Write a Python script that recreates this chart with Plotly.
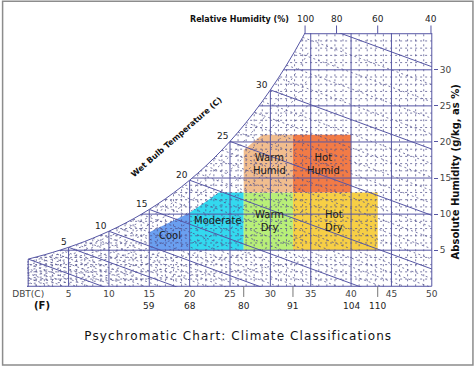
import plotly.graph_objects as go

# ---------------- data ----------------
# saturation humidity ratio (g/kg) at each integer dry-bulb temperature (C)
sat_T = list(range(-6, 36))
sat_w = [2.41, 2.60, 2.80, 3.02, 3.25, 3.50,
         3.77, 4.06, 4.36, 4.69, 5.03, 5.40, 5.80, 6.21, 6.66, 7.13,
         7.63, 8.16, 8.73, 9.33, 9.97, 10.65, 11.37, 12.13, 12.94, 13.79,
         14.70, 15.66, 16.67, 17.75, 18.88, 20.08, 21.36, 22.70, 24.12, 25.62,
         27.21, 28.88, 30.65, 32.52, 34.50, 36.58]
wb_slope = 0.41  # g/kg drop per degree C along a wet-bulb line
rh_grid = [0.9, 0.8, 0.7, 0.6, 0.5, 0.4, 0.3, 0.2, 0.1]  # dotted relative-humidity curves

dbt_ticks = [0, 5, 10, 15, 20, 25, 30, 35, 40, 45, 50]
dbt_labels = ["DBT(C)", "5", "10", "15", "20", "25", "30", "35", "40", "45", "50"]
abs_ticks = [5, 10, 15, 20, 25, 30]
f_T = [15, 20, 26.7, 32.8, 40, 43.3]
f_labels = ["59", "68", "80", "91", "104", "110"]
f_tick_T = [26.7, 32.8, 43.3]
rh_labels = ["100", "80", "60", "40"]
rh_T = [34.3, 38.2, 43.3, 49.9]
wb_label_T = [5, 10, 15, 20, 25, 30]

region_names = ["Cool", "Moderate", "Warm<br>Dry", "Hot<br>Dry", "Warm<br>Humid", "Hot<br>Humid"]
region_colors = ["#6a9ff0", "#33d9ef", "#b8ef78", "#f7cf45", "#f1bd8e", "#f27b46"]
region_T = [[15, 20, 20, 17.5, 15],
            [20, 26.7, 26.7, 23.6, 22, 20],
            [26.7, 32.8, 32.8, 26.7],
            [32.8, 43.3, 43.3, 32.8],
            [26.7, 32.8, 32.8, 29.0, 26.7],
            [32.8, 40, 40, 32.8]]
region_w = [[5, 5, 10.2, 8.8, 7.5],
            [5, 5, 13, 13, 11.7, 10.2],
            [5, 5, 13, 13],
            [5, 5, 13, 13],
            [13, 13, 21, 21, 18.9],
            [13, 13, 21, 21]]
label_T = [17.6, 23.5, 29.9, 37.9, 29.9, 36.6]
label_w = [7.0, 9.1, 9.0, 9.0, 16.9, 16.9]

# ---------------- layout geometry ----------------
FW, FH = 474, 366
X0, X1, Y0, Y1 = -0.15, 50.15, -0.1, 35.1
PXX, PXY = 8.1, 7.23
L = 26.5 + X0 * PXX
PW = (X1 - X0) * PXX
R = FW - L - PW
B = FH - (286.3 - Y0 * PXY)
PH = (Y1 - Y0) * PXY
T_ = FH - B - PH


def px(xp):
    return (xp - L) / PW


def py(yp):
    return (FH - B - yp) / PH


SOLID = "#5656a4"
DOT = "rgba(80,80,140,0.75)"
FONT = "DejaVu Sans"

fig = go.Figure()

# colored climate regions
for xs, ys, c in zip(region_T, region_w, region_colors):
    fig.add_trace(go.Scatter(x=xs + [xs[0]], y=ys + [ys[0]], fill="toself", fillcolor=c,
                             mode="lines", line=dict(width=0), hoverinfo="skip", showlegend=False))

sat = dict(zip(sat_T, sat_w))

dx, dy, sx, sy = [], [], [], []
# vertical DBT lines
for t in range(0, 51):
    xs, ys = (sx, sy) if t % 5 == 0 else (dx, dy)
    xs += [t, t, None]
    ys += [0, 36, None]
# horizontal humidity lines
for w in range(0, 36):
    xs, ys = (sx, sy) if w % 5 == 0 else (dx, dy)
    xs += [-1, 50, None]
    ys += [w, w, None]
# wet-bulb lines
for t in sat_T:
    xs, ys = (sx, sy) if (t % 5 == 0 and t >= 0) else (dx, dy)
    ws = sat[t]
    xs += [t, 50, None]
    ys += [ws, ws - wb_slope * (50 - t), None]

fig.add_trace(go.Scatter(x=dx, y=dy, mode="lines", line=dict(color=DOT, width=1, dash="2px,3px"),
                         hoverinfo="skip", showlegend=False))

# dotted relative-humidity curves
rx, ry = [], []
for rh in rh_grid:
    rx += sat_T + [None]
    ry += [rh * w for w in sat_w] + [None]
fig.add_trace(go.Scatter(x=rx, y=ry, mode="lines", line=dict(color=DOT, width=1, dash="2px,4px"),
                         hoverinfo="skip", showlegend=False))

fig.add_trace(go.Scatter(x=sx, y=sy, mode="lines", line=dict(color=SOLID, width=1),
                         hoverinfo="skip", showlegend=False))

# white mask above the saturation curve
mx = sat_T + [35, -6]
my = sat_w + [40, 40]
fig.add_trace(go.Scatter(x=mx, y=my, fill="toself", fillcolor="white", mode="lines",
                         line=dict(width=0), hoverinfo="skip", showlegend=False))
# saturation curve
curve_T = [t for t in sat_T if t >= 0]
curve_w = [sat[t] for t in curve_T]
fig.add_trace(go.Scatter(x=curve_T, y=curve_w, mode="lines", line=dict(color=SOLID, width=1, shape="spline"),
                         hoverinfo="skip", showlegend=False))

ann = []


def note(x, y, text, size=9, color="#222", xref="paper", yref="paper", **kw):
    d = dict(x=x, y=y, xref=xref, yref=yref, text=text, showarrow=False,
             xanchor="center", yanchor="middle", font=dict(family=FONT, size=size, color=color))
    d.update(kw)
    ann.append(d)


# region labels
for n, x, y in zip(region_names, label_T, label_w):
    note(x, y, n, size=10, color="#1a1a1a", xref="x", yref="y")
# wet bulb labels
for t in wb_label_T:
    note(t, sat[t], str(t), xref="x", yref="y", xanchor="right", yanchor="bottom", yshift=-2)
note(px(175), py(137), "<b>Wet Bulb Temperature (C)</b>", size=8, color="#111", textangle=-41)
# relative humidity labels at top
for lab, t in zip(rh_labels, rh_T):
    note(t, py(19), lab, xref="x")
note(px(239), py(19), "<b>Relative Humidity (%)</b>", size=8, color="#111")
# Fahrenheit labels
for lab, t in zip(f_labels, f_T):
    note(t, py(306), lab, xref="x")
note(px(40), py(306), "<b>(F)</b>", size=10, color="#111")
# right axis title
note(px(455), py(172), "<b>Absolute Humidity (g/kg, as %)</b>", size=10, color="#111", textangle=-90)
# chart title
note(px(238), py(336), "Psychromatic Chart: Climate Classifications", size=12, color="#111")

shapes = []
for t in f_tick_T:
    shapes.append(dict(type="line", xref="x", yref="paper", x0=t, x1=t, y0=py(286.5), y1=py(297),
                       line=dict(color="#777", width=1)))
for t in rh_T:
    shapes.append(dict(type="line", xref="x", yref="paper", x0=t, x1=t, y0=py(33), y1=py(25),
                       line=dict(color=SOLID, width=1)))
shapes.append(dict(type="rect", xref="paper", yref="paper", x0=px(0.8), x1=px(472.8), y0=py(365.2), y1=py(0.8),
                   line=dict(color="#8c8c8c", width=1.5)))

fig.update_layout(
    width=FW, height=FH, margin=dict(l=L, r=R, t=T_, b=B, pad=0),
    paper_bgcolor="white", plot_bgcolor="white",
    xaxis=dict(range=[X0, X1], showgrid=False, zeroline=False, showline=False,
               tickvals=dbt_ticks, ticktext=dbt_labels, ticks="",
               tickfont=dict(family=FONT, size=9, color="#444")),
    yaxis=dict(range=[Y0, Y1], side="right", showgrid=False, zeroline=False, showline=False,
               tickvals=abs_ticks, ticks="outside", ticklen=4, tickcolor=SOLID,
               tickfont=dict(family=FONT, size=9, color="#444")),
    annotations=ann, shapes=shapes, showlegend=False,
)

post = """
document.body.style.margin='0';document.body.style.overflow='hidden';
document.querySelectorAll('g.annotation text').forEach(function(t){
  if (t.textContent.indexOf('Psychromatic') === 0) { t.style.letterSpacing = '1.1px'; }
});
"""
fig.write_html("out.html", config={"displayModeBar": False}, post_script=post)
